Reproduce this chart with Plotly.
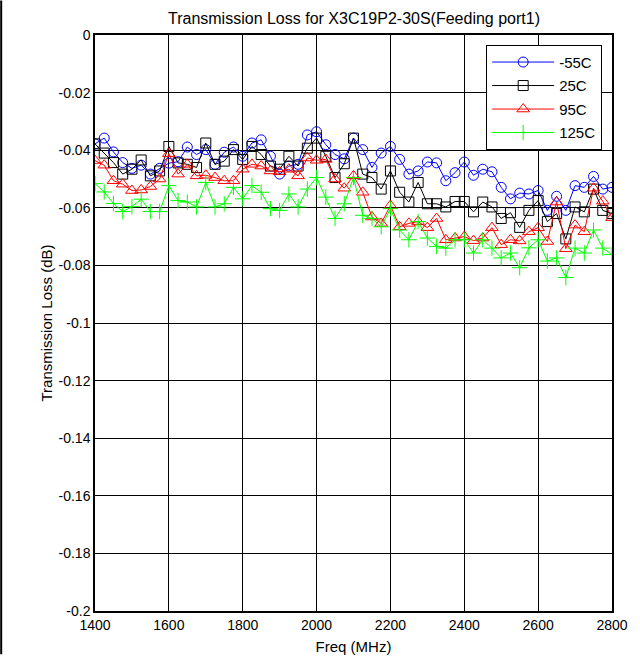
import plotly.graph_objects as go

freq = [1400 + 25 * k for k in range(57)]

loss_m55 = [-0.0378, -0.0358, -0.0406, -0.0443, -0.0463, -0.0452, -0.0483, -0.0463, -0.0445, -0.0440,
            -0.0389, -0.0415, -0.0398, -0.0449, -0.0407, -0.0389, -0.0421, -0.0375, -0.0364, -0.0421,
            -0.0483, -0.0455, -0.0449, -0.0347, -0.0336, -0.0381, -0.0415, -0.0430, -0.0358, -0.0398,
            -0.0460, -0.0410, -0.0387, -0.0432, -0.0483, -0.0472, -0.0441, -0.0444, -0.0506, -0.0478,
            -0.0441, -0.0487, -0.0466, -0.0475, -0.0529, -0.0569, -0.0549, -0.0552, -0.0540, -0.0609,
            -0.0560, -0.0609, -0.0523, -0.0529, -0.0491, -0.0535, -0.0529]

loss_25 = [-0.0378, -0.0410, -0.0443, -0.0483, -0.0466, -0.0434, -0.0489, -0.0472, -0.0387, -0.0444,
           -0.0449, -0.0460, -0.0375, -0.0449, -0.0438, -0.0398, -0.0432, -0.0387, -0.0415, -0.0455,
           -0.0466, -0.0421, -0.0455, -0.0393, -0.0358, -0.0421, -0.0495, -0.0447, -0.0358, -0.0483,
           -0.0495, -0.0535, -0.0472, -0.0546, -0.0580, -0.0512, -0.0586, -0.0586, -0.0597, -0.0578,
           -0.0578, -0.0614, -0.0580, -0.0597, -0.0637, -0.0617, -0.0668, -0.0609, -0.0575, -0.0648,
           -0.0620, -0.0708, -0.0597, -0.0614, -0.0535, -0.0609, -0.0620]

loss_95 = [-0.0436, -0.0452, -0.0506, -0.0518, -0.0540, -0.0538, -0.0526, -0.0500, -0.0412, -0.0483,
           -0.0449, -0.0489, -0.0487, -0.0495, -0.0506, -0.0506, -0.0466, -0.0449, -0.0455, -0.0472,
           -0.0475, -0.0466, -0.0489, -0.0427, -0.0435, -0.0432, -0.0500, -0.0532, -0.0489, -0.0546,
           -0.0632, -0.0654, -0.0592, -0.0666, -0.0654, -0.0648, -0.0669, -0.0637, -0.0711, -0.0705,
           -0.0700, -0.0714, -0.0705, -0.0669, -0.0728, -0.0711, -0.0715, -0.0683, -0.0669, -0.0717,
           -0.0580, -0.0742, -0.0660, -0.0683, -0.0532, -0.0577, -0.0634]

loss_125 = [-0.0516, -0.0545, -0.0585, -0.0613, -0.0596, -0.0570, -0.0613, -0.0613, -0.0523, -0.0575,
            -0.0580, -0.0597, -0.0512, -0.0597, -0.0586, -0.0529, -0.0569, -0.0523, -0.0546, -0.0603,
            -0.0609, -0.0552, -0.0597, -0.0535, -0.0495, -0.0563, -0.0637, -0.0586, -0.0495, -0.0626,
            -0.0637, -0.0666, -0.0603, -0.0677, -0.0711, -0.0648, -0.0705, -0.0734, -0.0740, -0.0711,
            -0.0711, -0.0757, -0.0711, -0.0740, -0.0774, -0.0757, -0.0808, -0.0739, -0.0711, -0.0785,
            -0.0774, -0.0842, -0.0740, -0.0757, -0.0677, -0.0740, -0.0762]

series_names = ["-55C", "25C", "95C", "125C"]
x_ticks = [1400, 1600, 1800, 2000, 2200, 2400, 2600, 2800]
y_ticks = [0, -0.02, -0.04, -0.06, -0.08, -0.1, -0.12, -0.14, -0.16, -0.18, -0.2]
y_tick_labels = ["0", "-0.02", "-0.04", "-0.06", "-0.08", "-0.1", "-0.12", "-0.14", "-0.16", "-0.18", "-0.2"]

styles = [
    ("#0000ff", "circle-open", 10),
    ("#000000", "square-open", 10),
    ("#ff0000", "triangle-up-open", 11),
    ("#00ff00", "cross-thin-open", 11),
]

fig = go.Figure()
for name, ys, (col, sym, sz) in zip(series_names, [loss_m55, loss_25, loss_95, loss_125], styles):
    fig.add_trace(go.Scatter(
        x=freq, y=ys, name=name, mode="lines+markers", legendgroup=name,
        line=dict(color=col, width=1),
        marker=dict(symbol=sym, size=sz, color=col, line=dict(color=col, width=1)),
    ))

fig.update_layout(
    width=640, height=665,
    margin=dict(l=95, r=27, t=35, b=44),
    paper_bgcolor="white", plot_bgcolor="white",
    font=dict(family="Liberation Sans, Arial", size=14, color="black"),
    title=dict(text="Transmission Loss for X3C19P2-30S(Feeding port1)",
               x=(95 + 518 / 2) / 640, xanchor="center", y=1 - 18 / 665, yanchor="middle",
               font=dict(size=16)),
    showlegend=True,
    legend=dict(x=0.981, y=0.983, xanchor="right", yanchor="top",
                bgcolor="white", bordercolor="black", borderwidth=1,
                font=dict(size=15), tracegroupgap=1, itemwidth=62),
)
fig.update_xaxes(range=[1400, 2800], tickvals=x_ticks, showgrid=True, gridcolor="black", gridwidth=1,
                 showline=True, linecolor="black", linewidth=1.5, mirror=True, zeroline=False,
                 ticks="", title=dict(text="Freq (MHz)", standoff=10, font=dict(size=15)),
                 tickfont=dict(size=14))
fig.update_yaxes(range=[-0.2, 0], tickvals=y_ticks, ticktext=y_tick_labels, showgrid=True,
                 gridcolor="black", gridwidth=1, showline=True, linecolor="black", linewidth=1.5,
                 mirror=True, zeroline=False, ticks="",
                 title=dict(text="Transmission Loss (dB)", standoff=2, font=dict(size=15)),
                 tickfont=dict(size=14))

fig.add_shape(type="line", xref="paper", yref="paper",
              x0=-94 / 518, x1=-94 / 518, y0=-44 / 586, y1=1 + 35 / 586,
              line=dict(color="black", width=2))

fig.write_html("out.html",
               config={"displayModeBar": False},
               post_script="document.body.style.margin='0';document.body.style.overflow='hidden';")
